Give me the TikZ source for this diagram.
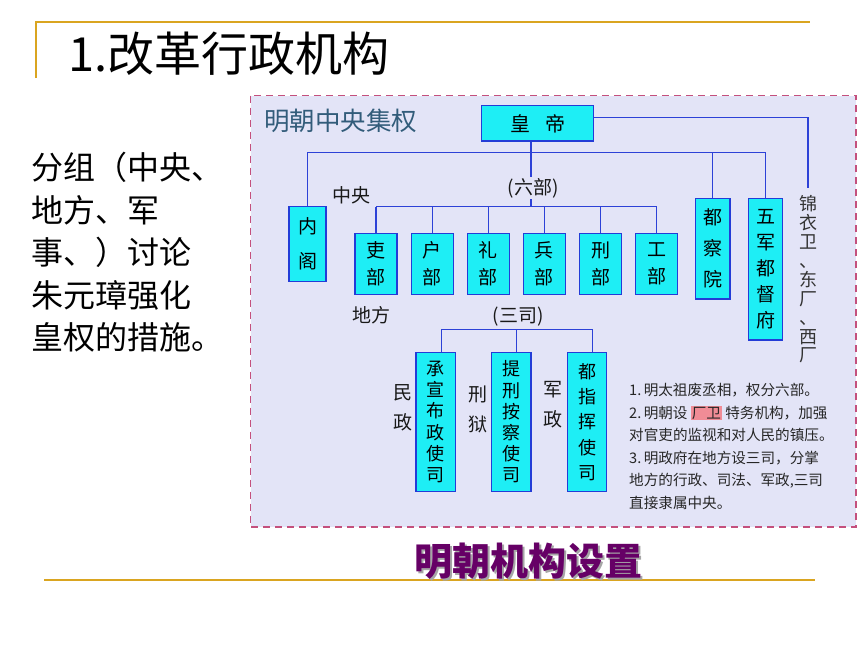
\documentclass[tikz,border=0pt]{standalone}
\usepackage{fontspec}
\setmainfont{Noto Sans CJK SC}

\definecolor{goldline}{RGB}{218,165,32}
\definecolor{panelbg}{RGB}{227,228,247}
\definecolor{panelborder}{RGB}{196,80,125}
\definecolor{boxfill}{RGB}{30,238,245}
\definecolor{boxedge}{RGB}{35,60,215}
\definecolor{linkblue}{RGB}{45,65,215}
\definecolor{titleblue}{RGB}{50,92,122}
\definecolor{capurple}{RGB}{102,0,102}
\definecolor{markpink}{RGB}{240,140,150}

\tikzset{
    box/.style={draw=boxedge, fill=boxfill, line width=1.3pt, inner sep=0pt, align=center},
    link/.style={draw=linkblue, line width=1.1pt},
    tag/.style={inner sep=1pt, align=center, text=black!90, font=\fontsize{19}{30}\selectfont},
}

\begin{document}
\begin{tikzpicture}[x=1pt,y=-1pt]

    % Page size
    \useasboundingbox (0,0) rectangle (860,645);

    % Gold rules
    \draw[goldline, line width=1.8pt] (35.7,78) -- (35.7,21.7) -- (810,21.7);
    \draw[goldline, line width=1.8pt] (44,580) -- (815,580);

    % Heading and task
    \node[anchor=west, inner sep=0pt, font=\fontsize{47}{47}\selectfont] (title) at (68,54) {1.改革行政机构};
    \node[anchor=north west, align=left, inner sep=0pt, font=\fontsize{32}{42.5}\selectfont] (task) at (31.7,152) {分组（中央、\\地方、军\\事、）讨论\\朱元璋强化\\皇权的措施。};

    % Panel
    \draw[panelborder, fill=panelbg, line width=1.8pt, dash pattern=on 7pt off 5pt] (250.5,95.5) rectangle (856,527);
    \node[anchor=west, inner sep=0pt, text=titleblue, font=\fontsize{25.5}{25.5}\selectfont] (paneltitle) at (264,120.5) {明朝中央集权};

    % Emperor and central offices
    \node[box, minimum width=111.6pt, minimum height=35.3pt, font=\fontsize{20}{20}\selectfont] (emperor) at (537.5,123.4) {皇\hspace{15pt}帝};
    \node[box, minimum width=37pt, minimum height=75pt, font=\fontsize{19}{35}\selectfont] (neige) at (307.5,244.2) {内\\阁};
    \node[box, minimum width=34.3pt, minimum height=100.7pt, font=\fontsize{19}{31}\selectfont] (duchayuan) at (712.9,248.7) {都\\察\\院};
    \node[box, minimum width=34pt, minimum height=141.7pt, font=\fontsize{19}{26}\selectfont] (wujun) at (765.7,269.2) {五\\军\\都\\督\\府};

    % Six ministries
    \coordinate (topbus) at (531,152.5);
    \coordinate (mbus) at (531,206.7);
    \foreach \name/\txt [count=\i from 0] in {li/吏,hu/户,lii/礼,bing/兵,xing/刑,gong/工} {
        \node[box, minimum width=42pt, minimum height=61pt, font=\fontsize{19}{27}\selectfont] (\name) at ({376+56.15*\i},263.8) {\txt\\部};
        \draw[link] (\name.north) -- (\name.north |- mbus);
    }

    % Three local offices
    \coordinate (sbus) at (516.7,329.3);
    \foreach \name/\txt/\xc/\lead in {chengxuan/{承\\宣\\布\\政\\使\\司}/435.8/21.2, tixing/{提\\刑\\按\\察\\使\\司}/511.3/21.2, duzhihui/{都\\指\\挥\\使\\司}/587/25.3}
        \node[box, minimum width=39.5pt, minimum height=139.4pt, font=\fontsize{18}{\lead}\selectfont] (\name) at (\xc,422) {\txt};

    % Links
    \draw[link] (neige.north) |- (topbus) -| (wujun.north);
    \draw[link] (duchayuan.north) -- (duchayuan.north |- topbus);
    \draw[link] ([xshift=-6.5pt]emperor.south) -- (mbus);
    \draw[link] (li.north |- mbus) -- (gong.north |- mbus);
    \draw[link] ([xshift=5.5pt]chengxuan.north) |- (sbus) -| ([xshift=5.5pt]duzhihui.north);
    \draw[link] ([xshift=5.5pt]tixing.north) -- ([xshift=5.5pt]tixing.north |- sbus);

    % Labels
    \node[tag] (central) at (351.7,195) {中央};
    \node[tag] (local) at (371.3,315) {地方};
    \node[tag, fill=panelbg] (sixlabel) at (533,188) {(六部)};
    \node[tag] (threelabel) at (518,316.7) {(三司)};
    \node[tag] (minzheng) at (403,408) {民\\政};
    \node[tag] (xingyu) at (478.3,409) {刑\\狱};
    \node[tag] (junzheng) at (553.3,405) {军\\政};
    \node[tag, text=black!80, font=\fontsize{18}{18.9}\selectfont] (jinyiwei) at (808,279.5) {锦\\衣\\卫\\、\\东\\厂\\、\\西\\厂};
    \draw[link] ([yshift=5.7pt]emperor.east) -| ([yshift=6pt]jinyiwei.north);

    % Notes
    \node[anchor=north west, align=left, inner sep=0pt, text=black!85, font=\fontsize{14.6}{22.5}\selectfont] (notes) at (629,383) {1.\,明太祖废丞相，权分六部。\\2.\,明朝设 {\setlength{\fboxsep}{1pt}\colorbox{markpink}{厂卫}} 特务机构，加强\\对官吏的监视和对人民的镇压。\\3.\,明政府在地方设三司，分掌\\地方的行政、司法、军政,三司\\直接隶属中央。};

    % Caption
    \node[text=black!35, font=\fontsize{38}{38}\selectfont\bfseries] (capshadow) at (530.5,563) {明朝机构设置};
    \node[text=capurple, font=\fontsize{38}{38}\selectfont\bfseries] (caption) at (528,561) {明朝机构设置};

\end{tikzpicture}
\end{document}
